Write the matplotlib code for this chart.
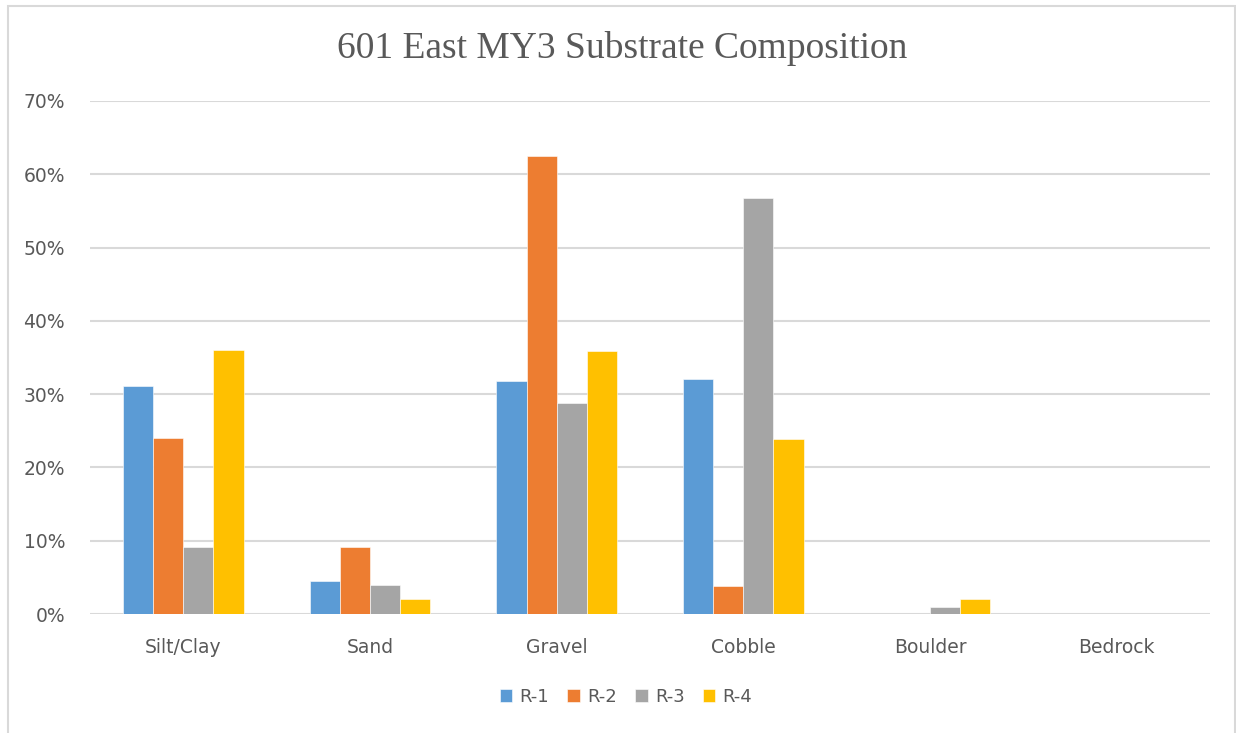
import numpy as np
import matplotlib.pyplot as plt
from matplotlib.patches import Rectangle
from matplotlib.ticker import PercentFormatter

# ---- data -----------------------------------------------------------------
categories = ['Silt/Clay', 'Sand', 'Gravel', 'Cobble', 'Boulder', 'Bedrock']
series = ['R-1', 'R-2', 'R-3', 'R-4']
r1 = [31.1, 4.5, 31.8, 32.0, 0.0, 0.0]
r2 = [24.0, 9.1, 62.5, 3.8, 0.0, 0.0]
r3 = [9.1, 3.9, 28.8, 56.8, 0.9, 0.0]
r4 = [36.0, 2.0, 35.9, 23.9, 2.0, 0.0]
values = [r1, r2, r3, r4]
colors = ['#5B9BD5', '#ED7D31', '#A5A5A5', '#FFC000']
title = '601 East MY3 Substrate Composition'

W, H = 1236, 733
fig = plt.figure(figsize=(W / 100, H / 100), dpi=100)
ax = fig.add_axes([90 / W, 1 - 614 / H, 1120 / W, 513 / H])

# ---- grouped bars ---------------------------------------------------------
x = np.arange(len(categories))
bw = 0.645 / len(series)
for k, (name, vals, c) in enumerate(zip(series, values, colors)):
    off = (k - (len(series) - 1) / 2) * bw
    ax.bar(x + off, vals, width=bw, color=c, label=name, zorder=3,
           edgecolor='white', linewidth=0.4)

ax.set_xlim(-0.5, len(categories) - 0.5)
ax.set_ylim(0, 70)
ax.set_yticks(np.arange(0, 71, 10))
ax.yaxis.set_major_formatter(PercentFormatter(decimals=0))
ax.set_xticks(x)
ax.set_xticklabels(categories)

ax.grid(axis='y', color='#D9D9D9', linewidth=1.5, zorder=0)
for s in ax.spines.values():
    s.set_visible(False)
ax.tick_params(axis='both', length=0, labelsize=13.5, colors='#595959')
ax.tick_params(axis='y', pad=18)
ax.tick_params(axis='x', pad=17)
for lab in ax.get_xticklabels() + ax.get_yticklabels():
    lab.set_fontfamily('DejaVu Sans')

fig.text(622 / W, 1 - 48 / H, title, ha='center', va='center',
         fontsize=27, color='#595959', family='Liberation Serif')

leg = fig.legend(loc='center', bbox_to_anchor=(626 / W, 1 - 697 / H),
                 ncol=4, frameon=False, handlelength=0.7, handleheight=0.7,
                 handletextpad=0.4, columnspacing=1.0,
                 prop={'family': 'DejaVu Sans', 'size': 13})
for t in leg.get_texts():
    t.set_color('#595959')

# chart frame (left, top and right edges)
fig.add_artist(Rectangle((7.5 / W, -0.05), (1234.5 - 7.5) / W,
                         1.05 - 5.5 / H, transform=fig.transFigure,
                         fill=False, edgecolor='#D9D9D9', linewidth=1.5))

fig.savefig('out.png', dpi=100)
